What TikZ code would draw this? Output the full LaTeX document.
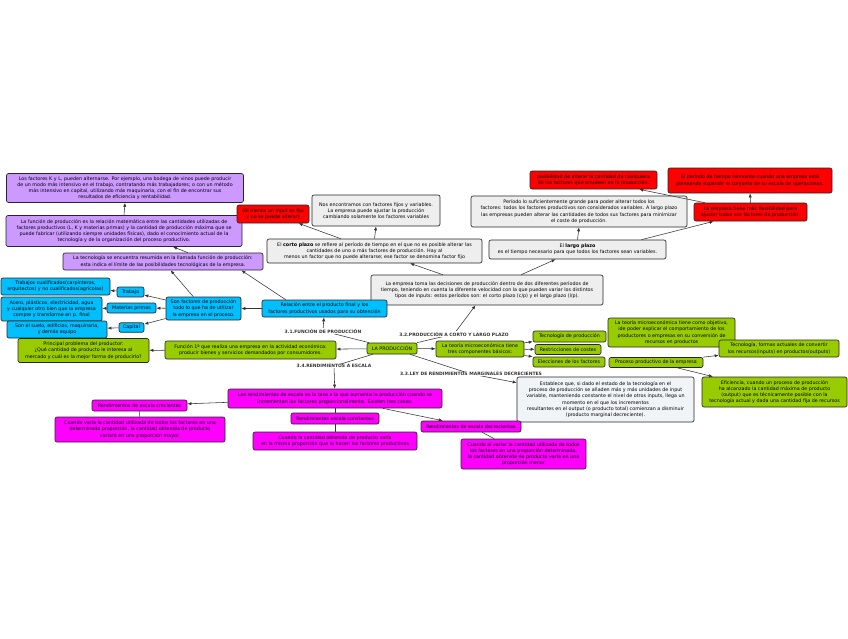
\documentclass[tikz,border=0pt]{standalone}
\usepackage{fontspec}
\setmainfont{DejaVu Sans}
\usetikzlibrary{arrows.meta,calc}
\definecolor{cpurp}{RGB}{204,153,255}
\definecolor{cred}{RGB}{255,0,0}
\definecolor{cgrey}{RGB}{238,238,238}
\definecolor{ccyan}{RGB}{0,191,255}
\definecolor{cgreen}{RGB}{153,204,0}
\definecolor{cmag}{RGB}{255,0,255}
\definecolor{clight}{RGB}{241,244,247}
\tikzset{
  bx/.style={draw=black!85, line width=0.65pt, rounded corners=2pt, align=center, inner sep=0.5pt, font=\fontsize{4.8}{6.2}\selectfont, text=black},
  lab/.style={font=\fontsize{4.5}{5}\selectfont\bfseries, inner sep=0.6pt, fill=white, text=black!80},
  ln/.style={draw=black!80, line width=0.55pt},
  ar/.style={ln, -{Latex[length=4pt,width=3.2pt]}},
}
\begin{document}
\begin{tikzpicture}[x=1pt,y=-1pt]
\useasboundingbox (0,0) rectangle (848,638);

% purple
\node[bx, fill=cpurp, minimum width=237pt, minimum height=29pt] (lf) at (125,188) {Los factores K y L, pueden alternarse. Por ejemplo, una bodega de vinos puede producir\\ de un modo más intensivo en el trabajo, contratando más trabajadores; o con un método\\ más intensivo en capital, utilizando más maquinaria, con el fin de encontrar sus\\ resultados de eficiencia y rentabilidad.};
\node[bx, fill=cpurp, minimum width=236pt, minimum height=31pt] (func) at (124,231) {La función de producción es la relación matemática entre las cantidades utilizadas de\\ factores productivos (L, K y materias primas) y la cantidad de producción máxima que se\\ puede fabricar (utilizando siempre unidades físicas), dado el conocimiento actual de la\\ tecnología y de la organización del proceso productivo.};
\node[bx, fill=cpurp, minimum width=200pt, minimum height=17pt] (tec) at (163,261.5) {La tecnología se encuentra resumida en la llamada función de producción:\\ esta indica el límite de las posibilidades tecnológicas de la empresa.};

% short run
\node[bx, fill=cred, minimum width=72pt, minimum height=18pt] (alm) at (273,214) {(Al menos un input es fijo\\ y no se puede alterar)};
\node[bx, fill=cgrey, minimum width=128pt, minimum height=31pt] (nos) at (376,210.5) {Nos encontramos con factores fijos y variables.\\ La empresa puede ajustar la producción\\ cambiando solamente los factores variables};
\node[bx, fill=cgrey, minimum width=215pt, minimum height=24pt] (corto) at (374.5,251) {El \textbf{corto plazo} se refiere al período de tiempo en el que no es posible alterar las\\ cantidades de uno o más factores de producción. Hay al\\ menos un factor que no puede alterarse; ese factor se denomina factor fijo};

% long run
\node[bx, fill=cred, minimum width=127pt, minimum height=18pt] (posib) at (593.5,180) {posibilidad de alterar la cantidad de cualquiera\\ de los factores que empleen en la producción.};
\node[bx, fill=cred, minimum width=164pt, minimum height=25pt] (per) at (750,180.5) {El período de tiempo relevante cuando una empresa está\\ planeando expandir el conjunto de su escala de operaciones.};
\node[bx, fill=cgrey, minimum width=216pt, minimum height=31pt] (psuf) at (579,211.5) {Período lo suficientemente grande para poder alterar todos los\\ factores: todos los factores productivos son considerados variables. A largo plazo\\ las empresas pueden alterar las cantidades de todos sus factores para minimizar\\ el coste de producción.};
\node[bx, fill=cred, minimum width=113pt, minimum height=18pt] (flex) at (750.5,212) {La empresa tiene más flexibilidad para\\ ajustar todos sus factores de producción.};
\node[bx, fill=cgrey, minimum width=177pt, minimum height=19pt] (largo) at (577.5,249.5) {El \textbf{largo plazo}\\ es el tiempo necesario para que todos los factores sean variables.};

\node[bx, fill=cgrey, minimum width=232pt, minimum height=30pt] (emp) at (487,290) {La empresa toma las decisiones de producción dentro de dos diferentes períodos de\\ tiempo, teniendo en cuenta la diferente velocidad con la que pueden variar los distintos\\ tipos de inputs: estos períodos son: el corto plazo (c/p) y el largo plazo (l/p).};

% cyan
\node[bx, fill=ccyan, minimum width=125pt, minimum height=17pt] (rel) at (324.5,308.5) {Relación entre el producto final y los\\ factores productivos usados para su obtención};
\node[bx, fill=ccyan, minimum width=75pt, minimum height=23pt] (sonf) at (203.5,308.5) {Son factores de producción\\ todo lo que ha de utilizar\\ la empresa en el proceso.};
\node[bx, fill=ccyan, minimum width=27pt, minimum height=10pt] (trab) at (130.5,292) {Trabajo};
\node[bx, fill=ccyan, minimum width=49pt, minimum height=10pt] (mat) at (131.5,308) {Materias primas};
\node[bx, fill=ccyan, minimum width=25pt, minimum height=9.5pt] (cap) at (131.5,327.5) {Capital};
\node[bx, fill=ccyan, minimum width=109pt, minimum height=17pt] (tcual) at (55.5,286.5) {Trabajos cualificados(carpinteros,\\ arquitectos) y no cualificados(agrícolas)};
\node[bx, fill=ccyan, minimum width=101pt, minimum height=24pt] (acero) at (51.5,309) {Acero, plásticos, electricidad, agua\\ y cualquier otro bien que la empresa\\ compre y transforme en p. final};
\node[bx, fill=ccyan, minimum width=100pt, minimum height=17pt] (suelo) at (57,329.5) {Son el suelo, edificios, maquinaria,\\ y demás equipo};

% green
\node[bx, fill=cgreen, minimum width=131pt, minimum height=24pt] (prin) at (83.5,350.5) {Principal problema del productor:\\ ¿Qué cantidad de producto le interesa al\\ mercado y cuál es la mejor forma de producirlo?};
\node[bx, fill=cgreen, minimum width=171pt, minimum height=18pt] (fun1) at (250.5,350) {Función 1ª que realiza una empresa en la actividad económica:\\ producir bienes y servicios demandados por consumidores.};
\node[bx, fill=cgreen, minimum width=50pt, minimum height=11pt] (prod) at (392,348.5) {LA PRODUCCIÓN};
\node[bx, fill=cgreen, minimum width=88pt, minimum height=16pt] (teo) at (480,349) {La teoría microeconómica tiene\\ tres componentes básicos:};
\node[bx, fill=cgreen, minimum width=73pt, minimum height=11pt] (tprod) at (569.5,336.5) {Tecnología de producción};
\node[bx, fill=cgreen, minimum width=66pt, minimum height=10pt] (rest) at (568,349.5) {Restricciones de costes};
\node[bx, fill=cgreen, minimum width=72pt, minimum height=10pt] (elec) at (569,362) {Elecciones de los factores};
\node[bx, fill=cgreen, minimum width=127pt, minimum height=29pt] (obj) at (671.5,332.5) {La teoría microeconómica tiene como objetivo,\\ ide poder explicar el comportamiento de los\\ productores o empresas en su conversión de\\ recursos en productos};
\node[bx, fill=cgreen, minimum width=94pt, minimum height=10pt] (proc) at (656,362.5) {Proceso productivo de la empresa};
\node[bx, fill=cgreen, minimum width=120pt, minimum height=17pt] (tform) at (779,348.5) {Tecnología, formas actuales de convertir\\ los recursos(inputs) en productos(outputs)};
\node[bx, fill=cgreen, minimum width=145pt, minimum height=30pt] (efic) at (774.5,392) {Eficiencia, cuando un proceso de producción\\ ha alcanzado la cantidad máxima de producto\\ (output) que es técnicamente posible con la\\ tecnología actual y dada una cantidad fija de recursos};

% law of diminishing returns
\node[bx, fill=clight, minimum width=177pt, minimum height=45pt] (est) at (605.5,399.5) {Establece que, si dado el estado de la tecnología en el\\ proceso de producción se añaden más y más unidades de input\\ variable, manteniendo constante el nivel de otros inputs, llega un\\ momento en el que los incrementos\\ resultantes en el output (o producto total) comienzan a disminuir\\ (producto marginal decreciente).};

% magenta
\node[bx, fill=cmag, minimum width=214pt, minimum height=19pt] (rr) at (335,398.5) {Los rendimientos de escala es la tasa a la que aumenta la producción cuando se\\ incrementan los factores proporcionalmente. Existen tres casos:};
\node[bx, fill=cmag, minimum width=95pt, minimum height=11pt] (crec) at (139.5,405.5) {Rendimientos de escala crecientes};
\node[bx, fill=cmag, minimum width=170pt, minimum height=25pt] (cvar) at (140,429.5) {Cuando varía la cantidad utilizada de todos los factores en una\\ determinada proporción, la cantidad obtenida de producto\\ variará en una proporción mayor.};
\node[bx, fill=cmag, minimum width=88pt, minimum height=11pt] (cons) at (335,418.5) {Rendimientos escala constantes};
\node[bx, fill=cmag, minimum width=164pt, minimum height=18pt] (ccant) at (335,441) {Cuando la cantidad obtenida de producto varía\\ en la misma proporción que lo hacen los factores productivos};
\node[bx, fill=cmag, minimum width=100pt, minimum height=11pt] (decr) at (471,426.5) {Rendimientos de escala decrecientes};
\node[bx, fill=cmag, minimum width=125pt, minimum height=30pt] (cal) at (523.5,454) {Cuando al variar la cantidad utilizada de todos\\ los factores en una proporción determinada,\\ la cantidad obtenida de producto varía en una\\ proporción menor};

% section label positions
\coordinate (c31) at (323,331);
\coordinate (c32) at (454,334);
\coordinate (c33) at (471,374);
\coordinate (c34) at (334,366);

% connectors
\draw[ar] (prod) -- (c31) -- (rel);
\draw[ar] (prod) -- (c32) -- (emp);
\draw[ar] (prod) -- (c33) -- (est);
\draw[ar] (prod) -- (c34) -- (rr);

\draw[ar] (emp) -- (corto);
\draw[ar] (emp) -- (largo);
\draw[ar] (corto) -- (alm);
\draw[ar] (corto.north) -- (nos.south);
\draw[ar] (largo.north) -- (psuf.south);
\draw[ar] ($(largo.north east)+(-25,0)$) -- (flex);
\draw[ar] (flex) -- (posib);
\draw[ar] (flex.north) -- (per.south);

\draw[ar] (rel) -- (sonf);
\draw[ar] ($(rel.north west)+(24,0)$) -- ($(tec.south east)+(-22,0)$);
\draw[ar] (sonf) -- (tec);
\draw[ar] ($(tec.north)+(25,0)$) -- ($(func.south)+(49,0)$);
\draw[ar] (func.north) -- (lf.south);
\draw[ar] (sonf) -- (trab);
\draw[ar] (sonf) -- (mat);
\draw[ar] (sonf) -- (cap);
\draw[ar] (trab) -- (tcual);
\draw[ar] (mat) -- (acero);
\draw[ar] (cap) -- (suelo);

\draw[ar] (prod) -- (fun1);
\draw[ar] (fun1) -- (prin);
\draw[ar] (prod) -- (teo);
\draw[ar] (teo) -- (tprod);
\draw[ar] (teo) -- (rest);
\draw[ar] (teo) -- (elec);
\draw[ar] (proc) -- (tform);
\draw[ar] (proc) -- (efic);

\draw[ar] (rr) -- (crec);
\draw[ln] (rr) -- (cons);
\draw[ar] (rr) -- (decr);
\draw[ln] (crec) -- (cvar);
\draw[ln] (cons) -- (ccant);
\draw[ln] (decr) -- (cal);

% labels
\node[lab] (l31) at (c31) {3.1.FUNCIÓN DE PRODUCCIÓN};
\node[lab] (l32) at (c32) {3.2.PRODUCCIÓN A CORTO Y LARGO PLAZO};
\node[lab] (l33) at (c33) {3.3.LEY DE RENDIMIENTOS MARGINALES DECRECIENTES};
\node[lab] (l34) at (c34) {3.4.RENDIMIENTOS A ESCALA};
\end{tikzpicture}
\end{document}
